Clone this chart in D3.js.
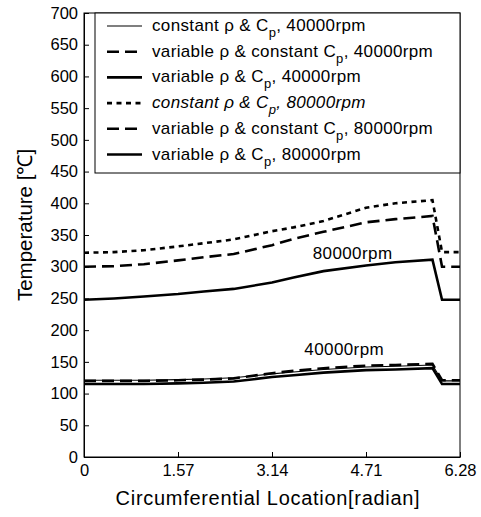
<!DOCTYPE html>
<html>
<head>
<meta charset="utf-8">
<script src="https://cdn.jsdelivr.net/npm/d3@7"></script>
<style>
  body { margin: 0; background: #fff; }
  svg { font-family: "Liberation Sans", Arial, sans-serif; }
  svg text { fill: #000; }
  .axis path, .axis line { stroke: #000; }
  .axis text { font-size: 16.5px; }
</style>
</head>
<body>
<div id="chart"></div>
<script>
// Temperature along the circumference for two speeds and three property models.
const xLoc = [0, 0.5, 1.0, 1.57, 2.0, 2.5, 3.14, 3.5, 4.0, 4.71, 5.2, 5.82, 5.98, 6.28];

const const40 = [121, 121, 121, 122, 123, 125, 131, 134, 138, 142, 143, 145, 120, 120];
const varRho40 = [120, 120, 120, 121, 122, 124, 132, 136, 140, 144, 145, 147, 121, 121];
const varAll40 = [115, 115, 115, 116, 117, 119, 126, 129, 133, 137, 138, 140, 115, 115];
const const80 = [322, 323, 326, 332, 337, 343, 356, 362, 372, 393, 400, 405, 323, 323];
const varRho80 = [300, 301, 304, 310, 315, 320, 334, 344, 355, 370, 375, 380, 300, 300];
const varAll80 = [248, 250, 253, 257, 261, 265, 275, 283, 293, 302, 307, 311, 248, 248];

const xTicks = [0, 1.57, 3.14, 4.71, 6.28];
const yTicks = d3.range(0, 701, 50);

const legendNames = [
    ["constant \u03c1 & C", ", 40000rpm"],
    ["variable \u03c1 & constant C", ", 40000rpm"],
    ["variable \u03c1 & C", ", 40000rpm"],
    ["constant \u03c1 & C", ", 80000rpm"],
    ["variable \u03c1 & constant C", ", 80000rpm"],
    ["variable \u03c1 & C", ", 80000rpm"]
];

const WIDTH = 481, HEIGHT = 517;
const M = { left: 84, top: 13, right: 21, bottom: 60 };

// line looks, in legend order
const styles = [
    { width: 1.1, dash: null, italic: false },
    { width: 2.6, dash: "12,6", italic: false },
    { width: 2.6, dash: null, italic: false },
    { width: 2.6, dash: "5,4.5", italic: true },
    { width: 2.6, dash: "12,6", italic: false },
    { width: 2.6, dash: null, italic: false }
];
const seriesValues = [const40, varRho40, varAll40, const80, varRho80, varAll80];

const svg = d3.select("#chart").append("svg")
    .attr("width", WIDTH)
    .attr("height", HEIGHT);

const x = d3.scaleLinear().domain([0, 6.28]).range([M.left, WIDTH - M.right]);
const y = d3.scaleLinear().domain([0, 700]).range([HEIGHT - M.bottom, M.top]);

// plot frame
svg.append("rect")
    .attr("x", x(0)).attr("y", y(700))
    .attr("width", x(6.28) - x(0)).attr("height", y(0) - y(700))
    .attr("fill", "none").attr("stroke", "#000").attr("stroke-width", 1);

svg.append("g")
    .attr("class", "axis")
    .attr("transform", `translate(0, ${y(0)})`)
    .call(d3.axisBottom(x).tickValues(xTicks).tickFormat(d3.format(".2~f"))
        .tickSizeInner(-5).tickSizeOuter(0).tickPadding(7));

svg.append("g")
    .attr("class", "axis")
    .attr("transform", `translate(${x(0)}, 0)`)
    .call(d3.axisLeft(y).tickValues(yTicks).tickSizeInner(-5).tickSizeOuter(0).tickPadding(6));

svg.append("text")
    .attr("x", (x(0) + x(6.28)) / 2 - 4)
    .attr("y", 505)
    .attr("text-anchor", "middle")
    .style("font-size", "20px")
    .style("letter-spacing", "0.7px")
    .text("Circumferential Location[radian]");

svg.append("text")
    .attr("transform", "translate(32, 225) rotate(-90)")
    .attr("text-anchor", "middle")
    .style("font-size", "20.5px")
    .text("Temperature [\u2103]");

const line = d3.line()
    .x((d, i) => x(xLoc[i]))
    .y(d => y(d));

svg.selectAll(".series")
    .data(seriesValues)
    .join("path")
    .attr("class", "series")
    .attr("d", d => line(d))
    .attr("fill", "none")
    .attr("stroke", "#000")
    .attr("stroke-width", (d, i) => styles[i].width)
    .attr("stroke-dasharray", (d, i) => styles[i].dash)
    .attr("stroke-linejoin", "miter");

svg.append("text")
    .attr("x", x(3.82)).attr("y", y(312))
    .style("font-size", "17px")
    .style("letter-spacing", "0.4px")
    .text("80000rpm");

svg.append("text")
    .attr("x", x(3.68)).attr("y", y(161))
    .style("font-size", "17px")
    .style("letter-spacing", "0.4px")
    .text("40000rpm");

// legend box
const legend = svg.append("g");
legend.append("rect")
    .attr("x", 95).attr("y", y(700))
    .attr("width", x(6.28) - 95).attr("height", 160)
    .attr("fill", "#fff").attr("stroke", "#000").attr("stroke-width", 1);

const rows = legend.selectAll(".row")
    .data(legendNames)
    .join("g")
    .attr("class", "row")
    .attr("transform", (d, i) => `translate(0, ${26 + i * 25.7})`);

rows.append("line")
    .attr("x1", 107).attr("x2", 142)
    .attr("stroke", "#000")
    .attr("stroke-width", (d, i) => styles[i].width)
    .attr("stroke-dasharray", (d, i) => styles[i].dash);

const labels = rows.append("text")
    .attr("x", 152).attr("y", 5)
    .style("font-size", "17px")
    .style("letter-spacing", "0.35px")
    .style("font-style", (d, i) => styles[i].italic ? "italic" : "normal");
labels.append("tspan").text(d => d[0]);
labels.append("tspan").attr("dy", 6).style("font-size", "13px").text("p");
labels.append("tspan").attr("dy", -6).text(d => d[1]);
</script>
</body>
</html>
